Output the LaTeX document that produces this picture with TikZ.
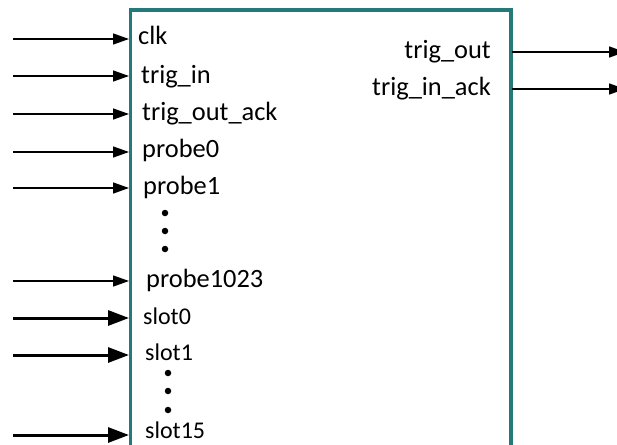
\documentclass[tikz,border=0pt]{standalone}
\usepackage{fontspec}
\setmainfont{Carlito}
\usetikzlibrary{arrows.meta}
\definecolor{boxteal}{RGB}{35,122,120}
\tikzset{
  lbl/.style={anchor=base west, inner sep=0pt, font=\fontsize{26.4}{29}\selectfont},
  rlbl/.style={anchor=base east, inner sep=0pt, font=\fontsize{26.4}{29}\selectfont},
  slbl/.style={anchor=base west, inner sep=0pt, font=\fontsize{24}{27}\selectfont},
  thinarrow/.style={line width=1.4pt, -{Triangle[length=16pt,width=11pt]}},
  thickarrow/.style={line width=3pt, -{Triangle[length=21pt,width=15pt]}},
  blockbox/.style={draw=boxteal, line width=3.6pt},
  dotmark/.style={circle, fill=black, inner sep=0pt, minimum size=6.5pt}
}
\begin{document}
\begin{tikzpicture}[x=1pt,y=-1pt]
\useasboundingbox (0,0) rectangle (617,444);
% block
\draw[blockbox] (130.5,460) -- (130.5,10) -- (511,10) -- (511,460);
% left labels
\node[lbl] (clk) at (138,45) {clk};
\node[lbl] (trigin) at (141,83) {trig\_in};
\node[lbl] (trigoutack) at (142,120) {trig\_out\_ack};
\node[lbl] (probe0) at (142,157) {probe0};
\node[lbl] (probe1) at (143,194) {probe1};
\node[lbl] (probe1023) at (146,287) {probe1023};
\node[slbl] (slot0) at (143,324) {slot0};
\node[slbl] (slot1) at (145,360) {slot1};
\node[slbl] (slot15) at (145,438) {slot15};
% right labels
\node[rlbl] (trigout) at (491,59) {trig\_out};
\node[rlbl] (triginack) at (491,95) {trig\_in\_ack};
% dots
\node[dotmark] (pd1) at (165,213) {};
\node[dotmark] (pd2) at (165,231) {};
\node[dotmark] (pd3) at (165,249) {};
\node[dotmark] (sd1) at (168,373) {};
\node[dotmark] (sd2) at (168,391) {};
\node[dotmark] (sd3) at (168,410) {};
% port coordinates
\foreach \n/\y in {clk/39, trigin/76, trigoutack/114, probe0/152, probe1/188, probe1023/281, slot0/318, slot1/355, slot15/435} {
  \coordinate (src\n) at (13,\y);
  \coordinate (pin\n) at (129,\y);
}
\coordinate (pintrigout) at (512,52);
\coordinate (dsttrigout) at (625,52);
\coordinate (pintriginack) at (512,89);
\coordinate (dsttriginack) at (625,89);
% arrows
\foreach \n in {clk, trigin, trigoutack, probe0, probe1, probe1023} {
  \draw[thinarrow] (src\n) -- (pin\n);
}
\foreach \n in {slot0, slot1, slot15} {
  \draw[thickarrow] (src\n) -- (pin\n);
}
\draw[thinarrow] (pintrigout) -- (dsttrigout);
\draw[thinarrow] (pintriginack) -- (dsttriginack);
\end{tikzpicture}
\end{document}
